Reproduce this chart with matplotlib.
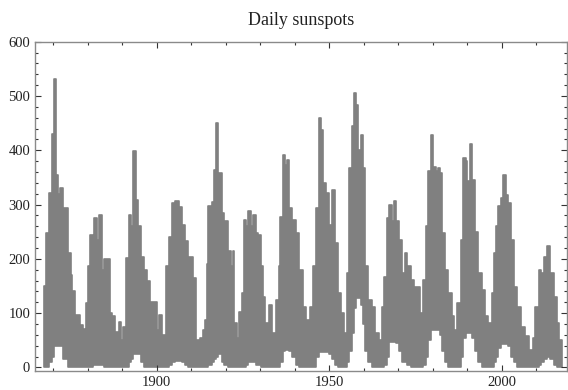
import matplotlib
matplotlib.use('Agg')
import matplotlib.pyplot as plt
from matplotlib.ticker import MultipleLocator, FixedLocator

# Segment start years with upper / lower envelope of the daily sunspot number
seg_year = [1867.4, 1868.0, 1868.9, 1869.7, 1870.2, 1870.9, 1871.4, 1871.9, 1872.8, 1874.3,
            1875.0, 1875.4, 1876.2, 1877.7, 1878.6, 1879.1,
            1879.6, 1880.0, 1880.7, 1881.4, 1881.9, 1882.6, 1883.4, 1884.0, 1884.8, 1886.5,
            1887.1, 1888.0, 1889.1, 1889.7,
            1890.3, 1891.0, 1891.9, 1892.6, 1893.2, 1893.9, 1894.6, 1895.4, 1896.3, 1897.2,
            1898.1, 1899.0, 1900.0, 1900.7, 1901.6,
            1902.6, 1903.5, 1904.4, 1905.4, 1906.4, 1907.3, 1908.2, 1909.0, 1910.4, 1911.3,
            1912.5, 1913.4, 1914.0, 1914.7,
            1915.0, 1915.9, 1916.7, 1917.2, 1917.9, 1919.0, 1919.5, 1920.8, 1921.6, 1922.0,
            1922.4, 1923.2, 1924.0, 1924.7,
            1925.3, 1925.9, 1926.6, 1927.3, 1928.0, 1928.8, 1929.5, 1930.2, 1930.8, 1931.4,
            1932.5, 1933.5, 1934.6, 1935.4,
            1935.8, 1936.5, 1937.3, 1937.7, 1938.5, 1939.3, 1940.4, 1941.4, 1942.3, 1943.3,
            1944.5, 1945.2,
            1946.2, 1947.0, 1947.7, 1948.3, 1949.1, 1949.9, 1950.9, 1951.6, 1952.5, 1953.5,
            1954.3,
            1955.2, 1955.7, 1956.5, 1957.2, 1957.8, 1958.4, 1959.1, 1959.8, 1960.5, 1961.3,
            1962.5, 1963.4, 1964.4,
            1965.2, 1965.8, 1966.8, 1967.5, 1968.3, 1968.8, 1969.4, 1970.2, 1971.2, 1971.9,
            1972.6, 1973.6, 1974.6, 1976.3,
            1977.3, 1978.0, 1978.7, 1979.5, 1980.2, 1981.1, 1981.6, 1982.1, 1982.8, 1983.6,
            1984.5, 1985.5, 1986.3,
            1987.2, 1988.2, 1988.9, 1989.6, 1990.1, 1990.8, 1991.5, 1992.3, 1993.2, 1994.2,
            1995.2, 1996.1,
            1997.1, 1997.9, 1998.4, 1999.0, 1999.8, 2000.3, 2001.3, 2001.9, 2002.7, 2003.5,
            2004.4, 2005.6, 2006.8, 2008.0, 2009.0,
            2009.7, 2010.9, 2011.4, 2012.4, 2013.3, 2014.1, 2015.1, 2016.0, 2016.7]

seg_high = [150, 247, 322, 430, 532, 355, 320, 330, 293, 210,
            170, 140, 97, 78, 70, 45,
            118, 186, 244, 232, 275, 235, 280, 180, 199, 100,
            95, 65, 84, 50,
            75, 201, 280, 260, 398, 308, 260, 204, 180, 160,
            120, 121, 69, 97, 60,
            186, 240, 303, 306, 295, 262, 232, 204, 164, 50,
            54, 69, 87, 190,
            297, 304, 364, 450, 358, 284, 269, 214, 186, 214,
            81, 55, 103, 137,
            272, 260, 289, 260, 281, 247, 244, 186, 130, 81,
            115, 63, 124, 186,
            278, 392, 373, 383, 293, 272, 247, 180, 112, 87,
            112, 186,
            293, 460, 438, 340, 321, 263, 327, 229, 137, 100,
            63,
            174, 367, 444, 506, 484, 401, 429, 367, 186, 124,
            112, 63, 50,
            112, 167, 275, 300, 269, 306, 269, 235, 174, 210,
            186, 161, 149, 100,
            161, 260, 361, 429, 370, 361, 367, 358, 247, 180,
            137, 94, 69,
            118, 235, 386, 380, 343, 412, 346, 250, 174, 143,
            94, 81,
            137, 210, 260, 297, 312, 355, 318, 303, 235, 149,
            112, 75, 57, 32, 54,
            112, 180, 174, 204, 223, 174, 130, 81, 50]

seg_low = [0, 0, 10, 20, 40, 40, 40, 40, 15, 0,
           0, 0, 0, 0, 0, 0,
           0, 0, 0, 5, 5, 5, 5, 5, 0, 0,
           0, 0, 0, 0,
           0, 0, 10, 15, 25, 25, 25, 10, 0, 0,
           0, 0, 0, 0, 0,
           0, 5, 10, 12, 12, 10, 5, 0, 0, 0,
           0, 0, 0, 0,
           5, 10, 15, 20, 25, 10, 5, 0, 0, 0,
           0, 0, 0, 0,
           0, 5, 10, 10, 10, 5, 5, 0, 0, 0,
           0, 0, 0, 0,
           10, 30, 32, 32, 30, 20, 5, 0, 0, 0,
           0, 0,
           20, 29, 29, 29, 29, 25, 15, 5, 0, 0,
           0,
           10, 30, 63, 110, 127, 127, 115, 80, 30, 10,
           0, 0, 0,
           0, 5, 20, 47, 47, 47, 45, 30, 10, 10,
           5, 0, 0, 0,
           5, 20, 50, 69, 69, 69, 69, 60, 30, 10,
           0, 0, 0,
           0, 20, 55, 63, 63, 63, 55, 30, 10, 0,
           0, 0,
           0, 10, 20, 35, 44, 44, 44, 40, 20, 10,
           0, 0, 0, 0, 0,
           0, 5, 10, 15, 20, 15, 5, 0, 0]

data_end = 2017.4

x_major = [1900, 1950, 2000]
x_minor = [1870, 1880, 1890, 1910, 1920, 1930, 1940, 1960, 1970, 1980, 1990, 2010]
title = "Daily sunspots"

plt.rcParams['font.family'] = ['Liberation Serif', 'DejaVu Serif']

fig = plt.figure(figsize=(5.68, 3.9), dpi=100)
ax = fig.add_axes([35 / 568, (390 - 370.7) / 390, (566.7 - 35) / 568, (370.7 - 41.7) / 390])

xs = seg_year + [data_end]
hi = seg_high + [seg_high[-1]]
lo = seg_low + [seg_low[-1]]
ax.fill_between(xs, lo, hi, step='post', color='#808080', edgecolor='#808080', linewidth=1.2)

ax.set_xlim(1864.7, 2018.9)
ax.set_ylim(-6, 600)

ax.xaxis.set_major_locator(FixedLocator(x_major))
ax.xaxis.set_minor_locator(FixedLocator(x_minor))
ax.yaxis.set_major_locator(MultipleLocator(100))
ax.yaxis.set_minor_locator(MultipleLocator(20))
ax.tick_params(which='both', direction='in', top=True, right=True,
               labeltop=False, labelright=False, color='#333333', width=0.8)
ax.tick_params(which='major', length=4.5, labelsize=10.5, labelcolor='#222222', pad=3.5)
ax.tick_params(which='minor', length=2.5)

for s in ax.spines.values():
    s.set_color('#8a8a8a')
    s.set_linewidth(1.0)

ax.set_title(title, fontsize=13, color='#222222', pad=12)

fig.savefig('out.png', dpi=100)
